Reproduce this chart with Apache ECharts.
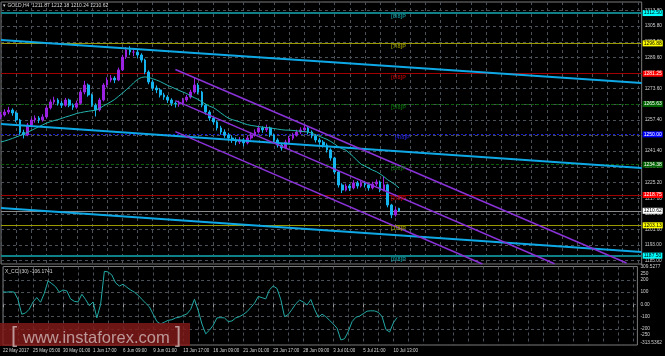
<!DOCTYPE html>
<html><head><meta charset="utf-8">
<style>html,body{margin:0;padding:0;background:#000;}#c{width:665px;height:356px;}</style>
<script src="https://cdn.jsdelivr.net/npm/echarts@6/dist/echarts.min.js"></script>
</head><body><div id="c"></div>
<script>
const timeLabels = ['22 May 2017','25 May 05:00','30 May 01:00','1 Jun 17:00','6 Jun 09:00','9 Jun 01:00','13 Jun 17:00','16 Jun 09:00','21 Jun 01:00','23 Jun 17:00','28 Jun 09:00','3 Jul 01:00','5 Jul 21:00','10 Jul 13:00'];
const slotCount = 170;
// [open, close, low, high]
const candles = [
[1259.0,1260.0,1257.8,1261.5],[1260.0,1261.5,1259.2,1263.0],[1261.5,1262.5,1260.4,1264.2],[1262.5,1261.0,1259.6,1263.4],
[1261.0,1257.4,1256.2,1261.8],[1257.4,1251.0,1249.8,1258.0],[1251.0,1249.7,1247.9,1252.4],[1249.7,1254.8,1249.0,1255.9],
[1254.8,1257.4,1253.6,1258.6],[1257.4,1258.4,1256.0,1259.8],[1258.4,1257.4,1255.8,1259.4],[1257.4,1259.0,1256.6,1260.4],
[1259.0,1263.6,1258.2,1264.8],[1263.6,1266.7,1262.8,1268.0],[1266.7,1267.7,1265.4,1269.4],[1267.7,1266.0,1264.8,1268.6],
[1266.0,1265.0,1263.6,1267.2],[1265.0,1267.7,1264.2,1268.8],[1267.7,1265.0,1264.0,1268.4],[1265.0,1264.0,1262.6,1266.0],
[1264.0,1266.0,1263.2,1267.4],[1266.0,1271.8,1265.4,1273.0],[1271.8,1275.4,1270.6,1277.6],[1275.4,1270.3,1269.4,1276.2],
[1270.3,1265.0,1264.2,1271.0],[1265.0,1262.6,1259.2,1266.0],[1262.6,1267.7,1261.8,1268.8],[1267.7,1275.4,1267.0,1276.4],
[1275.4,1278.0,1274.2,1279.4],[1278.0,1279.0,1276.8,1280.6],[1279.0,1278.0,1276.4,1280.0],[1278.0,1283.2,1277.4,1284.4],
[1283.2,1289.8,1282.6,1291.0],[1289.8,1293.5,1288.8,1295.0],[1293.5,1292.4,1290.8,1295.4],[1292.4,1292.4,1290.2,1294.4],
[1292.4,1290.9,1289.4,1293.6],[1290.9,1288.3,1287.0,1291.8],[1288.3,1282.1,1281.0,1289.0],[1282.1,1277.0,1275.8,1283.0],
[1277.0,1273.9,1272.4,1278.2],[1273.9,1272.9,1271.2,1275.2],[1272.9,1270.3,1269.0,1273.8],[1270.3,1269.2,1267.8,1271.4],
[1269.2,1267.7,1266.2,1270.2],[1267.7,1266.0,1264.6,1268.6],[1266.0,1265.6,1263.8,1267.0],[1265.6,1266.0,1264.2,1267.4],
[1266.0,1267.7,1265.0,1268.8],[1267.7,1269.2,1266.8,1270.4],[1269.2,1271.8,1268.4,1273.0],[1271.8,1275.4,1271.0,1279.0],
[1275.4,1271.8,1270.6,1276.4],[1271.8,1265.0,1264.0,1272.4],[1265.0,1261.5,1260.2,1265.8],[1261.5,1258.4,1257.0,1262.4],
[1258.4,1256.4,1255.0,1259.6],[1256.4,1253.3,1252.0,1257.2],[1253.3,1251.2,1249.8,1254.4],[1251.2,1249.7,1248.2,1252.6],
[1249.7,1248.1,1246.6,1250.8],[1248.1,1247.1,1245.6,1249.4],[1247.1,1246.1,1244.4,1248.4],[1246.1,1247.1,1245.0,1248.6],
[1247.1,1245.6,1243.8,1248.2],[1245.6,1248.1,1244.8,1249.4],[1248.1,1249.7,1247.2,1251.0],[1249.7,1251.2,1248.8,1252.6],
[1251.2,1253.3,1250.4,1254.6],[1253.3,1252.3,1250.8,1254.2],[1252.3,1253.3,1251.2,1255.0],[1253.3,1249.7,1248.6,1254.0],
[1249.7,1247.1,1245.8,1250.4],[1247.1,1244.5,1243.2,1248.0],[1244.5,1243.0,1241.6,1245.4],[1243.0,1246.0,1242.4,1247.2],
[1246.0,1248.0,1245.2,1249.2],[1248.0,1249.7,1247.0,1250.8],[1249.7,1251.2,1248.8,1252.4],[1251.2,1252.3,1250.2,1253.6],
[1252.3,1253.3,1251.0,1254.8],[1253.3,1251.2,1250.0,1254.0],[1251.2,1249.2,1248.0,1252.0],[1249.2,1247.1,1245.8,1250.0],
[1247.1,1246.0,1244.6,1248.2],[1246.0,1244.5,1243.2,1247.0],[1244.5,1242.0,1240.6,1245.4],[1242.0,1237.8,1236.4,1242.8],
[1237.8,1230.6,1229.4,1238.4],[1230.6,1223.9,1222.6,1231.2],[1223.9,1221.3,1219.8,1224.8],[1221.3,1223.4,1220.6,1224.6],
[1223.4,1222.4,1220.8,1224.4],[1222.4,1225.0,1221.6,1226.4],[1225.0,1223.4,1222.0,1226.0],[1223.4,1225.0,1222.6,1226.2],
[1225.0,1224.0,1222.6,1226.0],[1224.0,1222.4,1221.0,1225.0],[1222.4,1224.4,1221.6,1225.6],[1224.4,1225.5,1223.4,1226.8],
[1225.5,1221.3,1220.2,1226.2],[1221.3,1224.0,1220.6,1228.2],[1224.0,1213.6,1212.4,1224.6],[1213.6,1208.5,1206.8,1214.2],
[1208.5,1211.0,1207.6,1212.6],[1211.87,1210.62,1210.24,1212.18]
];
const maValues = [
1246.1,1246.6,1247.2,1247.9,1248.6,1249.4,1250.2,1251.1,1252.0,1253.0,1254.0,1254.9,1255.8,1256.5,1257.1,1257.6,
1258.2,1258.9,1259.5,1260.1,1260.8,1261.2,1261.6,1261.9,1262.2,1262.5,1263.4,1264.6,1265.7,1266.8,1268.0,1269.6,
1271.2,1272.9,1274.6,1276.6,1278.3,1279.3,1279.6,1279.3,1278.7,1278.0,1277.2,1276.2,1275.2,1274.4,1273.5,1272.6,
1271.8,1271.0,1269.8,1268.9,1268.0,1266.7,1265.6,1264.5,1263.8,1262.5,1261.0,1259.6,1258.3,1257.6,1257.0,1256.4,
1255.6,1255.0,1254.6,1254.3,1254.0,1253.7,1253.5,1253.3,1253.0,1252.7,1252.4,1252.2,1252.2,1252.0,1251.8,1251.6,
1251.4,1251.2,1250.6,1249.8,1249.0,1248.2,1247.4,1246.3,1245.0,1243.6,1242.6,1241.8,1240.2,1238.4,1236.4,1234.6,
1233.6,1232.6,1231.6,1230.8,1229.6,1228.2,1226.6,1225.4,1224.0,1222.4
];
const cciValues = [
102,100,104,100,40,-80,-70,-39,20,56,18,90,192,170,145,100,
118,110,45,25,20,83,40,-10,20,-110,0,270,265,240,175,150,
165,140,118,100,75,42,10,-20,-80,-140,-160,-145,-130,-125,-110,-105,
-90,-78,-40,42,-50,-160,-240,-210,-170,-110,-108,-110,-140,-135,-110,-100,
-82,-60,-25,10,65,55,45,120,150,130,40,-100,-82,-40,5,35,
20,-5,40,-40,-105,-80,-100,-130,-160,-195,-290,-280,-220,-140,-105,-95,
-75,-55,-52,-53,-65,-100,-205,-225,-150,-106.1741
];
const priceTicks = [1185.00,1193.00,1201.00,1209.00,1217.00,1225.20,1233.20,1241.40,1249.40,1257.40,1265.40,1273.60,1281.60,1289.60,1297.60,1305.80,1313.80];
const cciTicks = [309.5277,250,200,100,0,-100,-200,-250,-313.5362];
const cciTickText = ['309.5277','250','200','100','0.00','-100','-200','-250','-313.5362'];
const cciLevels = [200,100,0,-100,-200];
const murreyValues = [1312.50,1296.88,1281.25,1265.63,1250.00,1234.38,1218.75,1203.13,1187.50];
const murreyNames = ['[8/8]P','[7/8]P','[6/8]P','[5/8]P','[4/8]P','[3/8]P','[2/8]P','[1/8]P','[0/8]P'];
const murreyTagSlots = [103,103,103,103,104,103,103,103,103];
const lastPrice = 1210.62;
const blueLines = [
  [[0,1298.6],[169,1276.5]],
  [[0,1255.3],[169,1232.7]],
  [[0,1212.1],[169,1189.4]]
];
const purpleLines = [
  [[46,1283.4],[165,1183.7]],
  [[46,1267.4],[146,1183.3]],
  [[46,1251.4],[127,1183.2]]
];

const FONT = 'Liberation Sans';
const gridCol = '#4b5158';
const styles = {
  c:{line:'#0f8088',w:2,t:'solid',bg:'#00ffff',fg:'#000',tag:'#14a8b0'},
  y:{line:'#9a9a00',w:1,t:'solid',bg:'#ffff00',fg:'#000',tag:'#a8a800'},
  r:{line:'#a00000',w:1,t:'solid',bg:'#ff0000',fg:'#fff',tag:'#c80000'},
  g:{line:'#0c600c',w:1,t:[3,2],bg:'#006400',fg:'#fff',tag:'#0c7a0c'},
  b:{line:'#1a1ad0',w:1,t:[2,2],bg:'#0000ff',fg:'#fff',tag:'#2424e8'}
};
const levelStyle = ['c','y','r','g','b','g','r','y','c'].map(k => styles[k]);

const categories = Array.from({length: slotCount}, (_, i) => String(i));

const markData = murreyValues.map((v, k) => ({
  yAxis: v,
  lineStyle: {color: levelStyle[k].line, width: levelStyle[k].w, type: levelStyle[k].t},
  label: {backgroundColor: levelStyle[k].bg, color: levelStyle[k].fg}
}));
markData.push({yAxis: lastPrice, lineStyle:{color:'#8a8a8a', width:1, type:'solid'}, label:{backgroundColor:'#ffffff', color:'#000'}});

const lineSeries = (pts, color, width) => ({
  type:'line', data: pts, showSymbol:false, symbol:'none', clip:true, z:5,
  lineStyle:{color, width}, silent:true, animation:false
});

const chart = echarts.init(document.getElementById('c'), null, {renderer:'canvas'});
chart.setOption({
  backgroundColor:'#000',
  animation:false,
  textStyle:{fontFamily: FONT},
  grid:[
    {left:1, right:21, top:2, height:262, show:true, borderColor:'#7a7a7a', borderWidth:1, backgroundColor:'transparent'},
    {left:1, right:21, top:266.5, height:78.5, show:true, borderColor:'#7a7a7a', borderWidth:1, backgroundColor:'transparent'}
  ],
  xAxis:[
    {type:'category', gridIndex:0, data:categories, boundaryGap:false,
     axisLine:{show:false}, axisTick:{show:false}, axisLabel:{show:false},
     splitLine:{show:true, interval:3, lineStyle:{color:gridCol, type:[3,3], width:1}}},
    {type:'category', gridIndex:1, data:categories, boundaryGap:false,
     axisLine:{show:false},
     axisTick:{show:true, interval:7, length:3, lineStyle:{color:'#9a9a9a'}},
     axisLabel:{show:true, interval:7, align:'left', margin:3, fontSize:4.5, color:'#d8d8d8', fontFamily:FONT,
       formatter:(v, i) => (i % 8 === 0 && timeLabels[i/8]) ? timeLabels[i/8] : ''},
     splitLine:{show:true, interval:3, lineStyle:{color:gridCol, type:[3,3], width:1}}}
  ],
  yAxis:[
    {type:'value', gridIndex:0, position:'right', min:1183.2, max:1318.2, scale:true,
     axisLine:{show:false},
     axisTick:{show:false, customValues: priceTicks},
     axisLabel:{show:true, customValues: priceTicks, margin:3, fontSize:4.8, color:'#cfcfcf', fontFamily:FONT, align:'left',
       formatter: v => v.toFixed(2)},
     splitLine:{show:true, lineStyle:{color:gridCol, type:[3,3], width:1}}},
    {type:'value', gridIndex:1, position:'right', min:-331.3, max:309.5277,
     axisLine:{show:false},
     axisTick:{show:false, customValues: cciLevels},
     axisLabel:{show:true, customValues: cciTicks, margin:3, fontSize:4.8, color:'#cfcfcf', fontFamily:FONT, align:'left',
       formatter: v => { const k = cciTicks.findIndex(t => Math.abs(t - v) < 1e-6); return k >= 0 ? cciTickText[k] : ''; }},
     splitLine:{show:true, lineStyle:{color:gridCol, type:[3,3], width:1}}}
  ],
  series:[
    {type:'candlestick', xAxisIndex:0, yAxisIndex:0, data:candles, barWidth:2.2, z:3, silent:true,
     itemStyle:{color:'#9b22e0', color0:'#16b4ee', borderColor:'#9b22e0', borderColor0:'#16b4ee', borderWidth:1},
     markLine:{silent:true, symbol:'none', animation:false, precision:2, z:1,
       label:{show:true, position:'end', distance:1, fontSize:5, lineHeight:6, padding:[0,1,0,1], fontFamily:FONT,
         formatter: p => Number(p.value).toFixed(2)},
       data: markData}},
    {type:'line', xAxisIndex:0, yAxisIndex:0, data:maValues, showSymbol:false, symbol:'none', z:4,
     lineStyle:{color:'#22b4ae', width:1}, silent:true},
    ...blueLines.map(p => lineSeries(p, '#0fa8e6', 2)),
    ...purpleLines.map(p => lineSeries(p, '#8a32d8', 1.5)),
    {type:'scatter', xAxisIndex:0, yAxisIndex:0, symbolSize:1, z:6, silent:true,
     itemStyle:{color:'rgba(0,0,0,0)'},
     data: murreyValues.map((v, k) => ({value:[murreyTagSlots[k], v], label:{color: levelStyle[k].tag}})),
     label:{show:true, position:[0,1], fontSize:5.5, fontWeight:'bold', fontFamily:FONT,
       formatter: p => murreyNames[p.dataIndex]}},
    {type:'line', xAxisIndex:1, yAxisIndex:1, data:cciValues, showSymbol:false, symbol:'none', z:4,
     lineStyle:{color:'#22aaa6', width:1}, silent:true}
  ],
  graphic:[
    {type:'text', left:3, top:3, z:50, style:{text:'\u25BE GOLD,H4  1211.87 1212.18 1210.24 1210.62', fill:'#d8d8d8', font:'5px "Liberation Sans"'}},
    {type:'text', left:5, top:269, z:50, style:{text:'X_CCI(30) -106.1741', fill:'#d8d8d8', font:'5px "Liberation Sans"'}},
    {type:'rect', shape:{x:0, y:323, width:190, height:23}, z:40, style:{fill:'rgba(132,26,26,0.82)'}},
    {type:'text', x:11, y:347, z:41, style:{text:'[', fill:'rgba(215,195,195,0.75)', font:'22px "Liberation Sans"', verticalAlign:'bottom'}},
    {type:'text', x:23, y:347, z:41, style:{text:'www.instaforex.com', fill:'rgba(215,195,195,0.75)', font:'16.5px "Liberation Sans"', verticalAlign:'bottom'}},
    {type:'text', x:175, y:347, z:41, style:{text:']', fill:'rgba(215,195,195,0.75)', font:'22px "Liberation Sans"', verticalAlign:'bottom'}}
  ]
});
</script></body></html>
